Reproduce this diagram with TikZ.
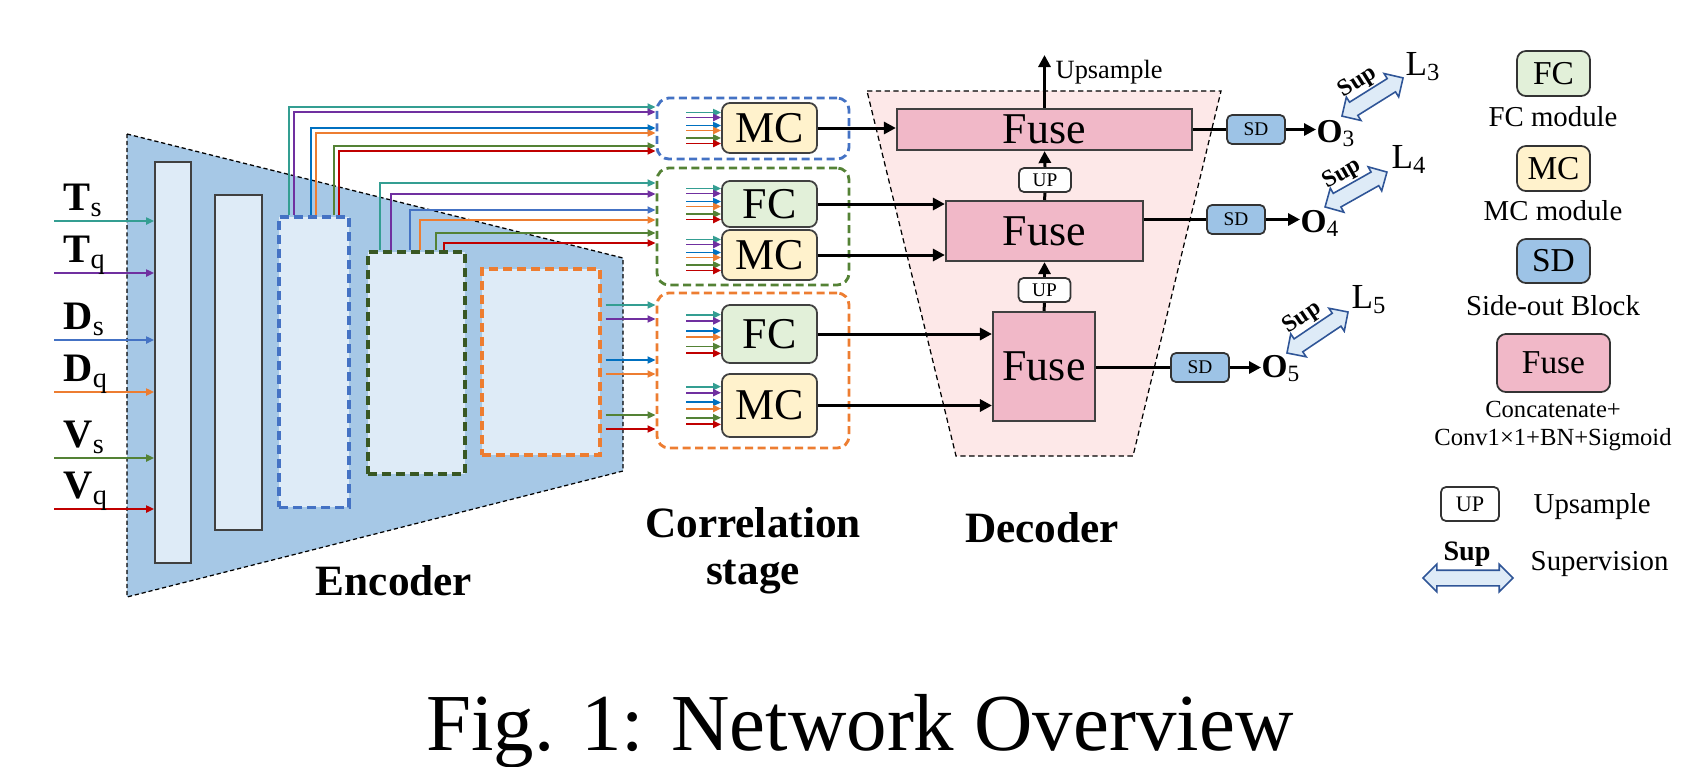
\documentclass[tikz,border=0pt]{standalone}
\usepackage{fontspec}
\setmainfont{Liberation Serif}
\usetikzlibrary{arrows.meta,calc,positioning,shapes.arrows}
\definecolor{cteal}{RGB}{52,158,146}
\definecolor{cpurple}{RGB}{112,48,160}
\definecolor{cblue}{RGB}{0,112,192}
\definecolor{cblueb}{RGB}{68,114,196}
\definecolor{corange}{RGB}{237,125,49}
\definecolor{cgreen}{RGB}{84,130,53}
\definecolor{cdkgreen}{RGB}{56,87,35}
\definecolor{cred}{RGB}{192,0,0}
\definecolor{encfill}{RGB}{166,200,230}
\definecolor{barfill}{RGB}{222,235,247}
\definecolor{mcfill}{RGB}{255,242,204}
\definecolor{fcfill}{RGB}{226,240,217}
\definecolor{sdfill}{RGB}{157,195,230}
\definecolor{fusefill}{RGB}{241,184,200}
\definecolor{decfill}{RGB}{253,232,232}
\definecolor{supfill}{RGB}{222,235,247}
\definecolor{supline}{RGB}{47,85,151}

\newcommand{\bundle}[2]{%
  \foreach \dy/\col in {-15.5/cteal,-10.5/cpurple,-2.5/cblue,2.5/corange,10/cgreen,15.5/cred}
    \draw[feat=\col] ($(#1.west)+(-35,{#2*(\dy)})$) -- ($(#1.west)+(0,{#2*(\dy)})$);}

\begin{document}
\begin{tikzpicture}[x=0.01cm,y=-0.01cm,every node/.style={inner sep=0pt},
  feat/.style={draw=#1,line width=0.55pt,-{Triangle[length=0.8mm,width=0.7mm]}},
  bar/.style={draw=black!75,fill=barfill,line width=0.5pt},
  stagebox/.style={draw=#1,fill=barfill,line width=0.9pt,dash pattern=on 0.9mm off 0.5mm},
  corrbox/.style={draw=#1,line width=0.8pt,dash pattern=on 0.8mm off 0.45mm,rounded corners=1.2mm,minimum width=19.2mm},
  module/.style={draw=black!75,line width=0.5pt,rounded corners=0.8mm,minimum width=9.5mm,font=\fontsize{12.5}{15}\selectfont},
  mcbox/.style={module,fill=mcfill},
  fcbox/.style={module,fill=fcfill},
  fusebox/.style={draw=black!75,fill=fusefill,line width=0.6pt,font=\fontsize{12.5}{15}\selectfont},
  upbox/.style={draw=black!80,fill=white,rounded corners=0.5mm,line width=0.5pt,minimum width=5.2mm,minimum height=2.4mm,font=\fontsize{5.5}{6}\selectfont},
  sdbox/.style={draw=black!80,fill=sdfill,rounded corners=0.5mm,line width=0.5pt,minimum width=5.8mm,minimum height=2.9mm,font=\fontsize{5.5}{6}\selectfont},
  link/.style={line width=0.85pt,-{Triangle[length=1.2mm,width=1.2mm]}},
  plain/.style={line width=0.85pt},
  inlabel/.style={anchor=base west,font=\fontsize{11.5}{13}\selectfont},
  outlabel/.style={anchor=base west,font=\fontsize{9.5}{11}\selectfont\bfseries},
  loss/.style={anchor=base west,font=\fontsize{10}{12}\selectfont},
  title/.style={font=\fontsize{12.3}{13.4}\selectfont\bfseries,align=center},
  suparr/.style={double arrow,draw=supline,fill=supfill,line width=0.45pt,inner xsep=0pt,inner ysep=0.7mm,double arrow head extend=0.6mm,minimum height=#1},
  suptext/.style={font=\fontsize{6.8}{8}\selectfont\bfseries},
  lgbox/.style={draw=black!80,rounded corners=0.9mm,line width=0.5pt,minimum width=7.3mm,minimum height=4.5mm,font=\fontsize{9.5}{11}\selectfont},
  lgtext/.style={anchor=base,font=\fontsize{8.2}{9.5}\selectfont},
  lgsmall/.style={anchor=base,font=\fontsize{7}{8}\selectfont}]
\useasboundingbox (0,0) rectangle (1697,766);

% encoder
\draw[fill=encfill,line width=0.35pt,dash pattern=on 1.2pt off 0.8pt] (127,134) -- (623,258) -- (623,471) -- (127,597) -- cycle;
\node[bar,minimum width=3.6mm,minimum height=40.1mm] (s1) at (173,362.5) {};
\node[bar,minimum width=4.7mm,minimum height=33.5mm] (s2) at (238.5,362.5) {};
\node[stagebox=cblueb,minimum width=7mm,minimum height=29mm] (s3) at (314,362) {};
\node[stagebox=cdkgreen,minimum width=9.7mm,minimum height=22.2mm] (s4) at (416.5,363) {};
\node[stagebox=corange,minimum width=11.8mm,minimum height=18.6mm] (s5) at (541,362) {};

% decoder
\draw[fill=decfill,line width=0.35pt,dash pattern=on 1.5pt off 1pt] (867,91) -- (1221,91) -- (1133,456) -- (956,456) -- cycle;

% correlation stage
\node[corrbox=cblueb,minimum height=6.1mm] (cb3) at (753,128.5) {};
\node[corrbox=cgreen,minimum height=11.7mm] (cb4) at (753,226.5) {};
\node[corrbox=corange,minimum height=15.5mm] (cb5) at (753,370.5) {};
\node[mcbox,minimum height=5mm] (mc3) at (769.5,128) {MC};
\node[fcbox,minimum height=4.6mm] (fc4) at (769.5,204) {FC};
\node[mcbox,minimum height=5mm] (mc4) at (769.5,255) {MC};
\node[fcbox,minimum height=5.8mm] (fc5) at (769.5,334) {FC};
\node[mcbox,minimum height=6.3mm] (mc5) at (769.5,405.5) {MC};

\node[fusebox,minimum width=29.5mm,minimum height=4.1mm] (fuse3) at (1044.5,129.5) {Fuse};
\node[upbox] (up34) at (1045,180) {UP};
\node[fusebox,minimum width=19.7mm,minimum height=6mm] (fuse4) at (1044.5,231) {Fuse};
\node[upbox] (up45) at (1044.5,290) {UP};
\node[fusebox,minimum width=10.2mm,minimum height=10.9mm] (fuse5) at (1044,366.5) {Fuse};

\node[sdbox] (sd3) at (1256,129.5) {SD};
\node[sdbox] (sd4) at (1236,219.5) {SD};
\node[sdbox] (sd5) at (1200,367.5) {SD};
\node[outlabel] (o3) at (1316,142) {O\textsubscript{\mdseries 3}};
\node[outlabel] (o4) at (1300,232) {O\textsubscript{\mdseries 4}};
\node[outlabel] (o5) at (1261,377) {O\textsubscript{\mdseries 5}};

\node[loss] (l3) at (1405,75) {L\textsubscript{3}};
\node[loss] (l4) at (1391,168) {L\textsubscript{4}};
\node[loss] (l5) at (1351,308) {L\textsubscript{5}};
\node[suparr=7.2mm,rotate=32] (sup3) at (1372.5,97) {};
\node[suptext,rotate=32,anchor=south] (sup3t) at ($(sup3.north)+(-4,2)$) {Sup};
\node[suparr=7.1mm,rotate=29.4] (sup4) at (1356,189.5) {};
\node[suptext,rotate=29.4,anchor=south] (sup4t) at ($(sup4.north)+(-4,2)$) {Sup};
\node[suparr=7.35mm,rotate=33.9] (sup5) at (1317.5,332.5) {};
\node[suptext,rotate=33.9,anchor=south] (sup5t) at ($(sup5.north)+(-4,2)$) {Sup};

% inputs
\foreach \nm/\lt/\sb/\yy/\col in {ts/T/s/221/cteal, tq/T/q/273/cpurple, ds/D/s/340/cblueb, dq/D/q/392/corange, vs/V/s/458/cgreen, vq/V/q/509/cred} {
  \coordinate (\nm) at (54,\yy);
  \draw[feat=\col] (\nm) -- (\nm -| s1.west);
  \node[inlabel] (lab-\nm) at ($(\nm)+(9,-11)$) {\textbf{\lt}\textsubscript{\sb}};
}

% encoder features to correlation stage
\foreach \dx/\yy/\col in {12/107/cteal, 17/112/cpurple, 34/128/cblue, 39/133/corange, 57/146/cgreen, 62/151/cred}
  \draw[feat=\col] ($(s3.north west)+(\dx,0)$) |- (cb3.west |- 0,\yy);
\foreach \dx/\yy/\col in {14/183/cteal, 25/194/cpurple, 44/210/cblueb, 54/220/corange, 70/233/cgreen, 78/243/cred}
  \draw[feat=\col] ($(s4.north west)+(\dx,0)$) |- (cb4.west |- 0,\yy);
\foreach \yy/\col in {305/cteal, 319/cpurple, 360/cblue, 374/corange, 415/cgreen, 429/cred}
  \draw[feat=\col] ($(s5.east |- 0,\yy)+(4,0)$) -- (cb5.west |- 0,\yy);
\bundle{mc3}{1}
\bundle{fc4}{1}
\bundle{mc4}{1}
\bundle{fc5}{1.25}
\bundle{mc5}{1.22}

% decoder links
\draw[link] (mc3.east) -- (mc3.east -| fuse3.west);
\draw[link] (fc4.east) -- (fc4.east -| fuse4.west);
\draw[link] (mc4.east) -- (mc4.east -| fuse4.west);
\draw[link] (fc5.east) -- (fc5.east -| fuse5.west);
\draw[link] (mc5.east) -- (mc5.east -| fuse5.west);
\draw[plain] (fuse4.north) -- (up34.south);
\draw[link] (up34.north) -- (fuse3.south);
\draw[plain] (fuse5.north) -- (up45.south);
\draw[link] (up45.north) -- (fuse4.south);
\coordinate (upout) at (1044,55);
\draw[link] (fuse3.north) -- (fuse3.north |- upout);
\node[anchor=base west,font=\fontsize{7.5}{9}\selectfont] (upt) at (1055,78) {Upsample};
\draw[plain] (sd3.west -| fuse3.east) -- (sd3.west);
\draw[plain] (sd4.west -| fuse4.east) -- (sd4.west);
\draw[plain] (sd5.west -| fuse5.east) -- (sd5.west);
\draw[link] (sd3.east) -- (sd3.east -| o3.west);
\draw[link] (sd4.east) -- (sd4.east -| o4.west);
\draw[link] (sd5.east) -- (sd5.east -| o5.west);

% legend
\node[lgbox,fill=fcfill] (lgfc) at (1553.5,73.5) {FC};
\node[lgtext] (lgfct) at (1553,126) {FC module};
\node[lgbox,fill=mcfill] (lgmc) at (1553.5,168.5) {MC};
\node[lgtext] (lgmct) at (1553,220) {MC module};
\node[lgbox,fill=sdfill,minimum height=4.4mm] (lgsd) at (1553.5,261) {SD};
\node[lgtext] (lgsdt) at (1553,315) {Side-out Block};
\node[lgbox,fill=fusefill,minimum width=11.3mm,minimum height=5.8mm] (lgfuse) at (1553.5,363) {Fuse};
\node[lgsmall] (lgfuset) at (1553,417) {Concatenate+};
\node[lgsmall] (lgfuseu) at (1553,445) {Conv1×1+BN+Sigmoid};
\node[upbox,minimum width=5.8mm,minimum height=3.4mm,font=\fontsize{6.3}{7}\selectfont] (lgup) at (1470,504) {UP};
\node[lgtext,anchor=base west] (lgupt) at (1533,513) {Upsample};
\node[suparr=9mm] (lgsup) at (1468,578) {};
\node[suptext,anchor=base,font=\fontsize{8}{9}\selectfont\bfseries] (lgsupt) at (1467,560) {Sup};
\node[lgtext,anchor=base west] (lgsupd) at (1530,570) {Supervision};

% titles
\node[title,anchor=base] (enct) at (394,595) {Encoder};
\node[title] (cort) at (753,551) {Correlation\\stage};
\node[title,anchor=base] (dect) at (1042,542) {Decoder};
\node[anchor=base,font=\fontsize{23}{26}\selectfont] (cap) at (860,750) {Fig. 1: Network Overview};
\end{tikzpicture}
\end{document}
